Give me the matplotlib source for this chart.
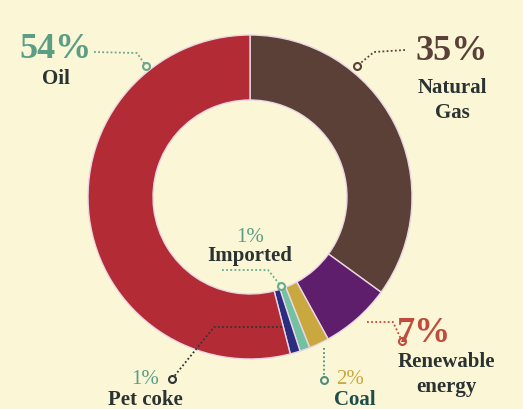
import matplotlib.pyplot as plt

# data
labels = ['Natural Gas', 'Renewable energy', 'Coal', 'Imported', 'Pet coke', 'Oil']
values = [35, 7, 2, 1, 1, 54]
colors = ['#5b4038', '#5e1e6c', '#c9a840', '#72c1a2', '#2b2d80', '#b32c35']

W, H = 523, 409
bg = '#fbf6d6'

fig = plt.figure(figsize=(W / 100, H / 100), dpi=100, facecolor=bg)
ax = fig.add_axes([0, 0, 1, 1])
ax.set_facecolor(bg)

def Y(y):
    # pixel rows from the top -> data y
    return H - y

cx, cy, R = 250, 197, 162
ax.pie(values, colors=colors, startangle=90, counterclock=False,
       center=(cx, Y(cy)), radius=R,
       wedgeprops=dict(width=65, edgecolor='#ead7e4', linewidth=1))
# pie sets its own limits, so put the pixel frame back afterwards
ax.set_xlim(0, W)
ax.set_ylim(0, H)
ax.set_aspect('equal')
ax.axis('off')

serif = 'Liberation Serif'

def txt(x, y, s, size, color, weight='bold'):
    ax.text(x, Y(y), s, fontsize=size, color=color, fontweight=weight,
            family=serif, ha='center', va='center')

def leader(pts, color):
    xs = [p[0] for p in pts]
    ys = [Y(p[1]) for p in pts]
    ax.plot(xs, ys, color=color, lw=1.3, ls=(0, (1, 1.3)), solid_capstyle='round')
    ax.plot(xs[-1], ys[-1], 'o', ms=5, mfc=bg, mec=color, mew=1.5)

teal = '#5b9e86'
dark = '#2a3232'

# Oil
txt(56, 50, '54%', 26, teal)
txt(56, 79, 'Oil', 15, dark)
leader([(94, 52), (137, 53), (146, 66)], '#6aa590')

# Natural gas
txt(452, 52, '35%', 26, '#5b4038')
txt(452, 88, 'Natural', 15, dark)
txt(452, 113, 'Gas', 15, dark)
leader([(405, 50), (374, 52), (357, 66)], '#5b4038')

# Renewable
txt(424, 333, '7%', 26, '#c24a3c')
txt(446, 362, 'Renewable', 15, dark)
txt(446, 387, 'energy', 15, dark)
leader([(367, 322), (393, 322), (402, 341)], '#c24a3c')

# Coal
txt(350, 379, '2%', 15, '#c9a840', 'normal')
txt(355, 400, 'Coal', 15, '#1f4d4c')
leader([(324, 348), (324, 380)], '#4f8f80')

# Imported
txt(250, 238, '1%', 15, teal, 'normal')
txt(250, 256, 'Imported', 15, dark)
leader([(222, 270), (268, 270), (281, 286)], '#5fae8e')

# Pet coke
txt(145, 379, '1%', 15, teal, 'normal')
txt(145, 400, 'Pet coke', 15, dark)
leader([(282, 327), (214, 327), (172, 379)], '#303535')

fig.savefig('out.png', dpi=100, facecolor=bg)
